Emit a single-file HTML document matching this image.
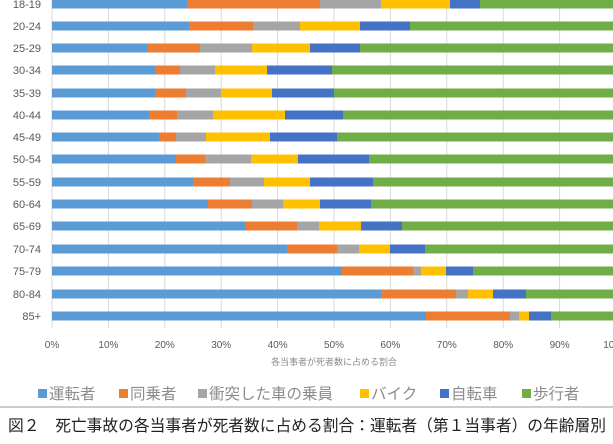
<!DOCTYPE html>
<html><head><meta charset="utf-8"><style>
body{margin:0;background:#fff;}
svg{display:block;font-family:"Liberation Sans","Noto Sans CJK JP",sans-serif;}
</style></head><body>
<svg width="613" height="444" viewBox="0 0 613 444">
<g stroke="#d9d9d9" stroke-width="1">
<line x1="52" y1="0" x2="52" y2="328"/><line x1="108.4" y1="0" x2="108.4" y2="328"/><line x1="164.8" y1="0" x2="164.8" y2="328"/><line x1="221.2" y1="0" x2="221.2" y2="328"/><line x1="277.6" y1="0" x2="277.6" y2="328"/><line x1="334" y1="0" x2="334" y2="328"/><line x1="390.4" y1="0" x2="390.4" y2="328"/><line x1="446.8" y1="0" x2="446.8" y2="328"/><line x1="503.2" y1="0" x2="503.2" y2="328"/><line x1="559.6" y1="0" x2="559.6" y2="328"/>
</g>
<g id="bars"></g>
<g font-size="10" fill="#595959" text-anchor="middle">
<text x="52" y="348">0%</text><text x="108.4" y="348">10%</text><text x="164.8" y="348">20%</text><text x="221.2" y="348">30%</text><text x="277.6" y="348">40%</text><text x="334" y="348">50%</text><text x="390.4" y="348">60%</text><text x="446.8" y="348">70%</text><text x="503.2" y="348">80%</text><text x="559.6" y="348">90%</text><text x="616" y="348">100%</text>
<text x="334" y="365" font-size="9" fill="#8c8c8c">各当事者が死者数に占める割合</text>
</g>
<g font-size="15.5" fill="#8c8c8c">
<rect x="38" y="389" width="9" height="9" fill="#5b9bd5"/><text x="49" y="399">運転者</text>
<rect x="119" y="389" width="9" height="9" fill="#ed7d31"/><text x="130" y="399">同乗者</text>
<rect x="198" y="389" width="9" height="9" fill="#a5a5a5"/><text x="209" y="399">衝突した車の乗員</text>
<rect x="360" y="389" width="9" height="9" fill="#ffc000"/><text x="371" y="399">バイク</text>
<rect x="440" y="389" width="9" height="9" fill="#4472c4"/><text x="451" y="399">自転車</text>
<rect x="522" y="389" width="9" height="9" fill="#70ad47"/><text x="533" y="399">歩行者</text>
</g>
<line x1="0" y1="407" x2="613" y2="407" stroke="#999" stroke-width="1"/>
<text x="8" y="431" font-size="16" fill="#222" textLength="598" lengthAdjust="spacingAndGlyphs">図２　死亡事故の各当事者が死者数に占める割合：運転者（第１当事者）の年齢層別</text>
</svg>
<script>
var rows=[["18-19",4,[187,320,381,450,480]],["20-24",26,[189,253,300,360,410]],["25-29",48,[148,200,252,310,360]],["30-34",70,[155,180,215,267,332]],["35-39",93,[155,186,221,272,334]],["40-44",115,[149,177,213,285,343]],["45-49",137,[159,176,206,270,337]],["50-54",159,[176,205,251,298,369]],["55-59",182,[193,230,264,310,373]],["60-64",204,[208,252,283,320,371]],["65-69",226,[246,297,319,361,402]],["70-74",249,[287,337,359,390,425]],["75-79",271,[342,413,421,446,473]],["80-84",294,[381,456,468,493,526]],["85+",316,[426,510,519,529,551]]];
var cols=["#5b9bd5","#ed7d31","#a5a5a5","#ffc000","#4472c4","#70ad47"];
var s="";
rows.forEach(function(r){var x=52,e=r[2].concat([613]);
for(var i=0;i<6;i++){s+='<rect x="'+x+'" y="'+(r[1]-4.5)+'" width="'+(e[i]-x)+'" height="9" fill="'+cols[i]+'"/>';x=e[i];}
s+='<text x="41" y="'+(r[1]+4)+'" font-size="11" fill="#595959" text-anchor="end">'+r[0]+'</text>';});
document.getElementById("bars").innerHTML=s;
</script>
</body></html>
